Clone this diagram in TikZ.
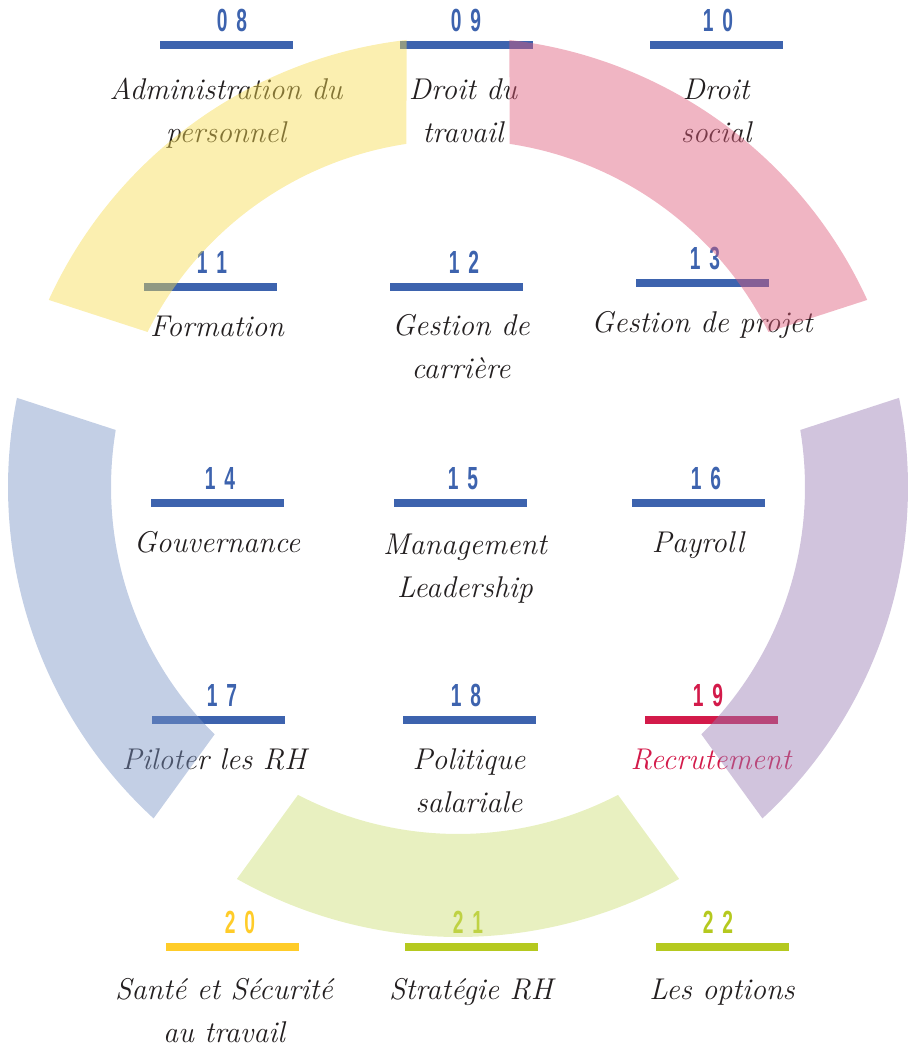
\documentclass[tikz,border=0pt]{standalone}
\usepackage{fontspec}
\usetikzlibrary{positioning}
\newfontfamily\numfont[FakeStretch=0.6]{Liberation Sans}
\definecolor{ink}{RGB}{35,31,32}
\definecolor{numblue}{RGB}{61,99,174}
\definecolor{numred}{RGB}{211,26,74}
\definecolor{numyellow}{RGB}{255,204,41}
\definecolor{numgreen}{RGB}{181,201,31}
\definecolor{ringyellow}{RGB}{246,219,79}
\definecolor{ringpink}{RGB}{222,91,122}
\definecolor{ringpurple}{RGB}{153,124,179}
\definecolor{ringblue}{RGB}{122,148,197}
\definecolor{ringgreen}{RGB}{204,222,115}
\tikzset{
  bar/.style={fill=#1, minimum width=133pt, minimum height=8pt, inner sep=0pt},
  bar/.default=numblue,
  num/.style={text=#1, font=\numfont\bfseries\fontsize{32}{32}\selectfont, inner sep=0pt},
  num/.default=numblue,
  lbl/.style={text=#1, font=\fontsize{30}{43}\selectfont\itshape, align=center, inner sep=0pt},
  lbl/.default=ink
}

\begin{document}
\begin{tikzpicture}[x=1pt,y=1pt]
\useasboundingbox (0,0) rectangle (912,-1047);
\node[bar] (b08) at (226,-45) {};
\node[num, above=9pt of b08, xshift=6pt] (n08) {0\kern9pt 8};
\node[lbl, below=20pt of b08] (t08) {\strut Administration du\\personnel};
\node[bar] (b09) at (466,-45) {};
\node[num, above=9pt of b09] (n09) {0\kern9pt 9};
\node[lbl, below=20pt of b09, xshift=-3pt] (t09) {\strut Droit du\\travail};
\node[bar] (b10) at (716,-45) {};
\node[num, above=9pt of b10, xshift=2pt] (n10) {1\kern9pt 0};
\node[lbl, below=20pt of b10] (t10) {\strut Droit\\social};

\node[bar] (b11) at (210,-287) {};
\node[num, above=9pt of b11, xshift=2pt] (n11) {1\kern9pt 1};
\node[lbl, below=15pt of b11, xshift=7pt] (t11) {\strut Formation};
\node[bar] (b12) at (456,-287) {};
\node[num, above=9pt of b12, xshift=8pt] (n12) {1\kern9pt 2};
\node[lbl, below=14pt of b12, xshift=5pt] (t12) {\strut Gestion de\\carrière};
\node[bar] (b13) at (702,-283) {};
\node[num, above=9pt of b13, xshift=3pt] (n13) {1\kern9pt 3};
\node[lbl, below=15pt of b13] (t13) {\strut Gestion de projet};

\node[bar] (b14) at (217,-503) {};
\node[num, above=9pt of b14, xshift=3pt] (n14) {1\kern9pt 4};
\node[lbl, below=15pt of b14] (t14) {\strut Gouvernance};
\node[bar] (b15) at (460,-503) {};
\node[num, above=9pt of b15, xshift=3pt] (n15) {1\kern9pt 5};
\node[lbl, below=17pt of b15, xshift=5pt] (t15) {\strut Management\\Leadership};
\node[bar] (b16) at (698,-503) {};
\node[num, above=9pt of b16, xshift=8pt] (n16) {1\kern9pt 6};
\node[lbl, below=15pt of b16] (t16) {\strut Payroll};

\node[bar] (b17) at (218,-720) {};
\node[num, above=9pt of b17, xshift=4pt] (n17) {1\kern9pt 7};
\node[lbl, below=15pt of b17, xshift=-4pt] (t17) {\strut Piloter les RH};
\node[bar] (b18) at (469,-720) {};
\node[num, above=9pt of b18, xshift=-3pt] (n18) {1\kern9pt 8};
\node[lbl, below=15pt of b18] (t18) {\strut Politique\\salariale};
\node[bar=numred] (b19) at (711,-720) {};
\node[num=numred, above=9pt of b19, xshift=-3pt] (n19) {1\kern9pt 9};
\node[lbl=numred, below=15pt of b19] (t19) {\strut Recrutement};

\node[bar=numyellow] (b20) at (232,-947) {};
\node[num=numyellow, above=9pt of b20, xshift=8pt] (n20) {2\kern9pt 0};
\node[lbl, below=18pt of b20, xshift=-8pt] (t20) {\strut Santé et Sécurité\\au travail};
\node[bar=numgreen] (b21) at (471,-947) {};
\node[num=numgreen, above=9pt of b21, xshift=-3pt] (n21) {2\kern9pt 1};
\node[lbl, below=18pt of b21] (t21) {\strut Stratégie RH};
\node[bar=numgreen] (b22) at (722,-947) {};
\node[num=numgreen, above=9pt of b22, xshift=-4pt] (n22) {2\kern9pt 2};
\node[lbl, below=18pt of b22] (t22) {\strut Les options};

\begin{scope}[shift={(458,-487)}, fill opacity=0.45]
\foreach \a/\clr in {90/ringyellow,18/ringpink,-54/ringpurple,-126/ringgreen,162/ringblue}
  \fill[\clr] ({\a+6.57}:450) arc[start angle=\a+6.57, end angle=\a+65.43, radius=450]
    -- ({\a+63.46}:347) arc[start angle=\a+63.46, end angle=\a+8.54, radius=347] -- cycle;
\end{scope}
\end{tikzpicture}
\end{document}
